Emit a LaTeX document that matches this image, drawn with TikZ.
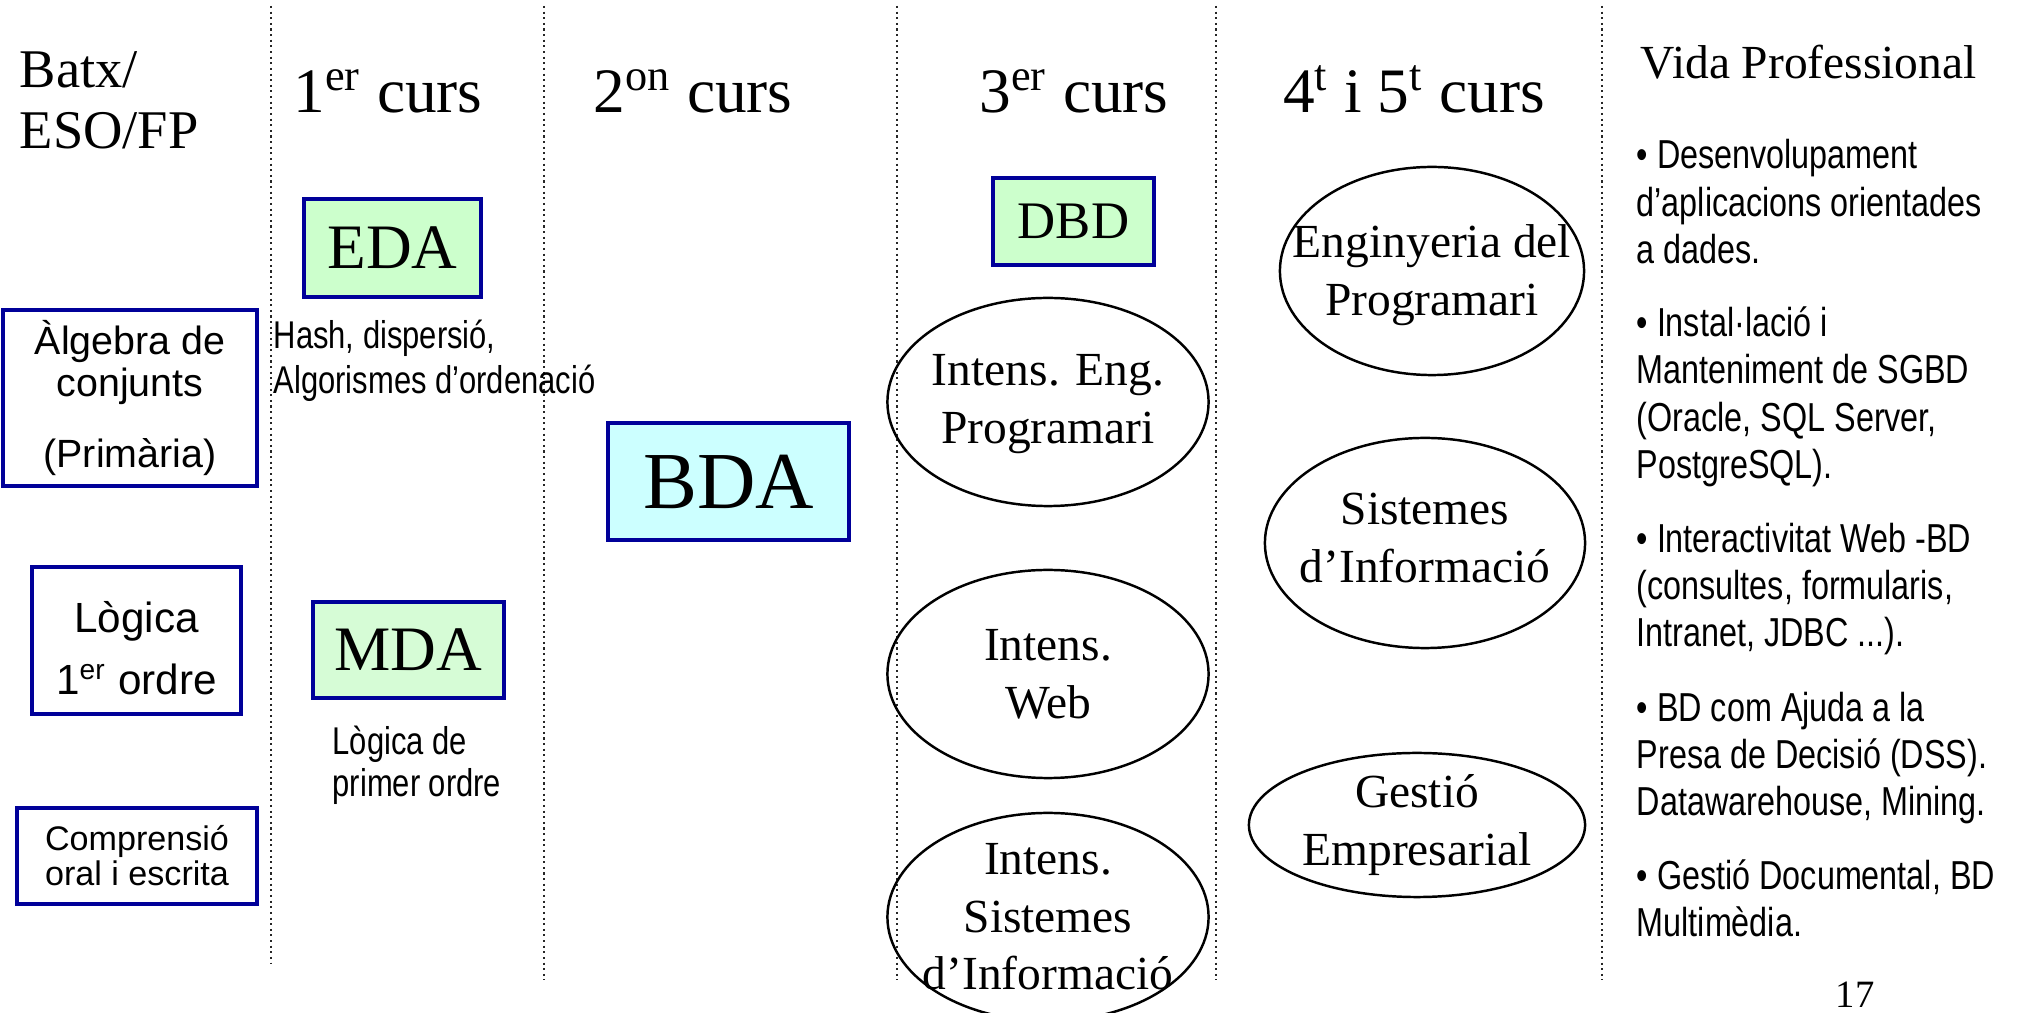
\documentclass[tikz,border=0pt]{standalone}
\usepackage{fontspec}
\setmainfont{Liberation Serif}
\setsansfont{Liberation Sans}
\newfontfamily\narrowsf{Liberation Sans}[FakeStretch=0.8]

\definecolor{boxblue}{RGB}{0,0,153}
\definecolor{edagreen}{RGB}{204,255,204}
\definecolor{mdagreen}{RGB}{214,252,214}
\definecolor{bdacyan}{RGB}{204,255,255}

\begin{document}
\begin{tikzpicture}[x=0.01cm, y=-0.01cm,
    sep/.style={densely dotted, line width=0.6pt, black!85},
    course/.style={anchor=base, font=\fontsize{18}{21}\selectfont},
    subj/.style={draw=boxblue, line width=0.9pt, inner sep=0pt},
    prior/.style={draw=boxblue, line width=0.9pt, inner sep=0pt, align=center},
    note/.style={anchor=north west, inner sep=0pt, align=left, font=\narrowsf\fontsize{11}{12.8}\selectfont},
    career/.style={note, font=\narrowsf\fontsize{11.5}{13.5}\selectfont},
    oval/.style={line width=0.7pt},
    ovaltext/.style={align=center, inner sep=0pt, font=\fontsize{13.5}{16.4}\selectfont}]

    % page size
    \path[use as bounding box, fill=white] (0,0) rectangle (2017,1013);

    % column separators
    \draw[sep] (271,6) -- (271,963);
    \draw[sep] (544,6) -- (544,980);
    \draw[sep] (897,6) -- (897,980);
    \draw[sep] (1216,6) -- (1216,980);
    \draw[sep] (1602,6) -- (1602,980);

    % column headings
    \node[anchor=north west, inner sep=0pt, align=left, font=\fontsize{15.5}{17.3}\selectfont]
        (batx) at (19,51) {Batx/\\ESO/FP};
    \node[course] (c1) at (388,113) {1\textsuperscript{er} curs};
    \node[course] (c2) at (693,113) {2\textsuperscript{on} curs};
    \node[course] (c3) at (1074,113) {3\textsuperscript{er} curs};
    \node[course] (c45) at (1414,113) {4\textsuperscript{t} i 5\textsuperscript{t} curs};
    \node[anchor=base west, inner sep=0pt, font=\fontsize{13.5}{16}\selectfont]
        (vida) at (1640,79) {Vida Professional};

    % previous knowledge
    \node[prior, minimum width=2.54cm, minimum height=1.76cm, font=\sffamily\fontsize{11.2}{12.2}\selectfont]
        (alg) at (130,398) {Àlgebra de\\conjunts\\[0.28cm](Primària)};
    \node[prior, minimum width=2.09cm, minimum height=1.47cm, font=\sffamily\fontsize{12}{17.6}\selectfont]
        (logic) at (136.5,640.5) {\rule{0pt}{0.47cm}Lògica\\1\textsuperscript{er} ordre};
    \node[prior, minimum width=2.40cm, minimum height=0.96cm, font=\sffamily\fontsize{9.7}{9.9}\selectfont]
        (oral) at (137,856) {Comprensió\\oral i escrita};

    % first year
    \node[subj, fill=edagreen, minimum width=1.77cm, minimum height=0.98cm, font=\fontsize{18}{21}\selectfont]
        (eda) at (392.5,248) {EDA};
    \node[note] (edanote) at (273,319) {Hash, dispersió,\\Algorismes d’ordenació};
    \node[subj, fill=mdagreen, minimum width=1.91cm, minimum height=0.96cm, font=\fontsize{18}{21}\selectfont]
        (mda) at (408.5,650) {MDA};
    \node[note, font=\narrowsf\fontsize{11}{12}\selectfont] (mdanote) at (332,725) {Lògica de\\primer ordre};

    % second year
    \node[subj, fill=bdacyan, minimum width=2.41cm, minimum height=1.17cm, font=\fontsize{23}{27}\selectfont]
        (bda) at (728.5,481.5) {BDA};

    % third year
    \node[subj, fill=edagreen, minimum width=1.61cm, minimum height=0.87cm, font=\fontsize{15}{18}\selectfont]
        (dbd) at (1073.5,221.5) {DBD};
    \node[ovaltext] (iep) at (1048,404) {Intens. Eng.\\Programari};
    \draw[oval] (1048,402) ellipse [x radius=1.605cm, y radius=1.04cm];
    \node[ovaltext] (iw) at (1048,674) {Intens.\\Web};
    \draw[oval] (1048,674) ellipse [x radius=1.605cm, y radius=1.04cm];
    \node[ovaltext] (isi) at (1048,917) {Intens.\\Sistemes\\d’Informació};
    \draw[oval] (1048,917) ellipse [x radius=1.605cm, y radius=1.04cm];

    % fourth and fifth year
    \node[ovaltext] (ep) at (1432,275) {Enginyeria del\\Programari};
    \draw[oval] (1432,271) ellipse [x radius=1.52cm, y radius=1.04cm];
    \node[ovaltext] (si) at (1425,538) {Sistemes\\d’Informació};
    \draw[oval] (1425,543) ellipse [x radius=1.60cm, y radius=1.05cm];
    \node[ovaltext] (ge) at (1417,825) {Gestió\\Empresarial};
    \draw[oval] (1417,825) ellipse [x radius=1.68cm, y radius=0.72cm];

    % professional life
    \node[career] (p1) at (1636,139) {• Desenvolupament\\d’aplicacions orientades\\a dades.};
    \node[career] (p2) at (1636,306) {• Instal·lació i\\Manteniment de SGBD\\(Oracle, SQL Server,\\PostgreSQL).};
    \node[career] (p3) at (1636,522) {• Interactivitat Web -BD\\(consultes, formularis,\\Intranet, JDBC ...).};
    \node[career] (p4) at (1636,691) {• BD com Ajuda a la\\Presa de Decisió (DSS).\\Datawarehouse, Mining.};
    \node[career] (p5) at (1636,859) {• Gestió Documental, BD\\Multimèdia.};

    % slide number
    \node[anchor=base, font=\fontsize{11}{13}\selectfont] (pagenum) at (1855,1008) {17};

\end{tikzpicture}
\end{document}
